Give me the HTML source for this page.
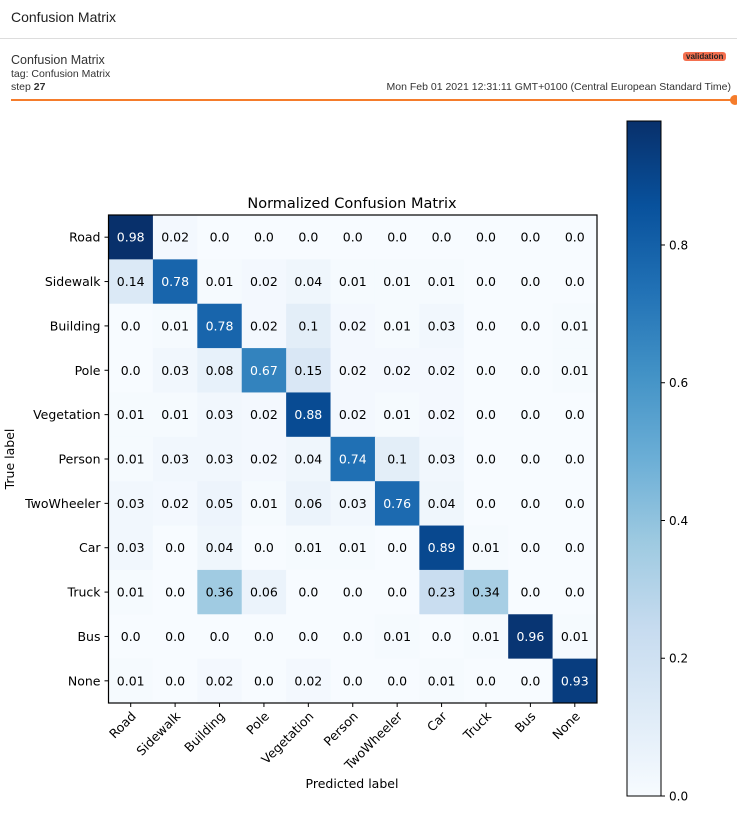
<!DOCTYPE html>
<html><head><meta charset="utf-8"><style>
body{margin:0;width:737px;height:823px;background:#fff;font-family:"Liberation Sans",sans-serif;overflow:hidden;position:relative}
.t{position:absolute;white-space:nowrap}
</style></head><body>
<div class="t" style="left:11px;top:9px;font-size:14px;color:#212121">Confusion Matrix</div>
<div style="position:absolute;left:0;top:38px;width:737px;height:1px;background:#ddd"></div>
<div class="t" style="left:11px;top:53px;font-size:12.5px;color:#333">Confusion Matrix</div>
<div class="t" style="left:11px;top:68px;font-size:10.5px;color:#333">tag: Confusion Matrix</div>
<div class="t" style="left:11px;top:81px;font-size:10.5px;color:#333">step <b>27</b></div>
<div class="t" style="left:683px;top:52px;font-size:8px;font-weight:bold;background:#f4704f;color:#222;padding:0 3px;border-radius:3px;line-height:9px">validation</div>
<div class="t" style="right:6px;top:81px;font-size:10.5px;color:#333">Mon Feb 01 2021 12:31:11 GMT+0100 (Central European Standard Time)</div>
<div style="position:absolute;left:11px;top:99px;width:722px;height:2px;background:#f57c2b"></div>
<div style="position:absolute;left:730px;top:95px;width:10px;height:10px;border-radius:5px;background:#f57c2b"></div>
<svg id="chart" width="737" height="823" style="position:absolute;left:0;top:0" font-family="DejaVu Sans, sans-serif"></svg>
<script>
const labels=["Road","Sidewalk","Building","Pole","Vegetation","Person","TwoWheeler","Car","Truck","Bus","None"];
const row0=[0.98,0.02,0.0,0.0,0.0,0.0,0.0,0.0,0.0,0.0,0.0];
const row1=[0.14,0.78,0.01,0.02,0.04,0.01,0.01,0.01,0.0,0.0,0.0];
const row2=[0.0,0.01,0.78,0.02,0.1,0.02,0.01,0.03,0.0,0.0,0.01];
const row3=[0.0,0.03,0.08,0.67,0.15,0.02,0.02,0.02,0.0,0.0,0.01];
const row4=[0.01,0.01,0.03,0.02,0.88,0.02,0.01,0.02,0.0,0.0,0.0];
const row5=[0.01,0.03,0.03,0.02,0.04,0.74,0.1,0.03,0.0,0.0,0.0];
const row6=[0.03,0.02,0.05,0.01,0.06,0.03,0.76,0.04,0.0,0.0,0.0];
const row7=[0.03,0.0,0.04,0.0,0.01,0.01,0.0,0.89,0.01,0.0,0.0];
const row8=[0.01,0.0,0.36,0.06,0.0,0.0,0.0,0.23,0.34,0.0,0.0];
const row9=[0.0,0.0,0.0,0.0,0.0,0.0,0.01,0.0,0.01,0.96,0.01];
const row10=[0.01,0.0,0.02,0.0,0.02,0.0,0.0,0.01,0.0,0.0,0.93];
const matrix=[row0,row1,row2,row3,row4,row5,row6,row7,row8,row9,row10];
const cbTicks=[0.0,0.2,0.4,0.6,0.8];
const vmax=0.98;
const NS="http://www.w3.org/2000/svg",svg=document.getElementById('chart');
const L=108.5,T=215,W=488.5,H=488;
const n=labels.length,cw=W/n,ch=H/n;
const stops=["#f7fbff","#deebf7","#c6dbef","#9ecae1","#6baed6","#4292c6","#2171b5","#08519c","#08306b"];
function hex(c){return [1,3,5].map(i=>parseInt(c.substr(i,2),16));}
function blues(t){t=Math.max(0,Math.min(1,t));const p=t*(stops.length-1),i=Math.min(stops.length-2,Math.floor(p)),f=p-i;const a=hex(stops[i]),b=hex(stops[i+1]);return "rgb("+a.map((v,k)=>Math.round(v+(b[k]-v)*f)).join(",")+")";}
function xS(j){return L+j*cw;} function yS(i){return T+i*ch;}
function el(tag,attrs,txt){const e=document.createElementNS(NS,tag);for(const k in attrs)e.setAttribute(k,attrs[k]);if(txt!=null)e.textContent=txt;svg.appendChild(e);return e;}
let e=el('text',{x:352,y:208,'text-anchor':'middle','font-size':14.5,fill:'#000'},'Normalized Confusion Matrix');


matrix.forEach((row,i)=>row.forEach((v,j)=>{
 const r=el('rect',{x:xS(j),y:yS(i),width:cw+0.5,height:ch+0.5,fill:blues(v/vmax)});
 
 
 const t=el('text',{x:xS(j)+cw/2,y:yS(i)+ch/2+4.5,'text-anchor':'middle','font-size':12.5,fill:v>vmax/2?'#fff':'#000'},v.toFixed(2).replace(/0$/,'').replace(/\.$/,'.0'));
 
 
}));
e=el('rect',{x:L,y:T,width:W,height:H,fill:'none',stroke:'#000','stroke-width':1.2});


labels.forEach((lb,i)=>{
 el('line',{x1:L-4,x2:L,y1:yS(i)+ch/2,y2:yS(i)+ch/2,stroke:'#000'});
 const t=el('text',{x:L-8,y:yS(i)+ch/2+4.5,'text-anchor':'end','font-size':12.5},lb);
 
 
 const cx=xS(i)+cw/2;
 el('line',{x1:cx,x2:cx,y1:T+H,y2:T+H+4,stroke:'#000'});
 const u=el('text',{x:cx+6,y:T+H+14,'text-anchor':'end','font-size':12.5,transform:'rotate(-45 '+(cx+6)+' '+(T+H+14)+')'},lb);
 
 
});
e=el('text',{x:352,y:788,'text-anchor':'middle','font-size':12.5},'Predicted label');


e=el('text',{x:14,y:459,'text-anchor':'middle','font-size':12.5,transform:'rotate(-90 14 459)'},'True label');


// colorbar
const CL=627,CT=121,CW=34,CB=796;
function cy(v){return CB-(v/vmax)*(CB-CT);}
const defs=el('defs',{});
const g=document.createElementNS(NS,'linearGradient');g.setAttribute('id','cg');g.setAttribute('x1','0');g.setAttribute('y1','1');g.setAttribute('x2','0');g.setAttribute('y2','0');
stops.forEach((s,k)=>{const st=document.createElementNS(NS,'stop');st.setAttribute('offset',k/(stops.length-1));st.setAttribute('stop-color',s);g.appendChild(st);});
defs.appendChild(g);
e=el('rect',{x:CL,y:CT,width:CW,height:CB-CT,fill:'url(#cg)',stroke:'#000','stroke-width':1});


cbTicks.forEach(v=>{
 el('line',{x1:CL+CW,x2:CL+CW+4,y1:cy(v),y2:cy(v),stroke:'#000'});
 const t=el('text',{x:CL+CW+8,y:cy(v)+4.5,'font-size':12},v.toFixed(1));
 
 
});
</script>
</body></html>
